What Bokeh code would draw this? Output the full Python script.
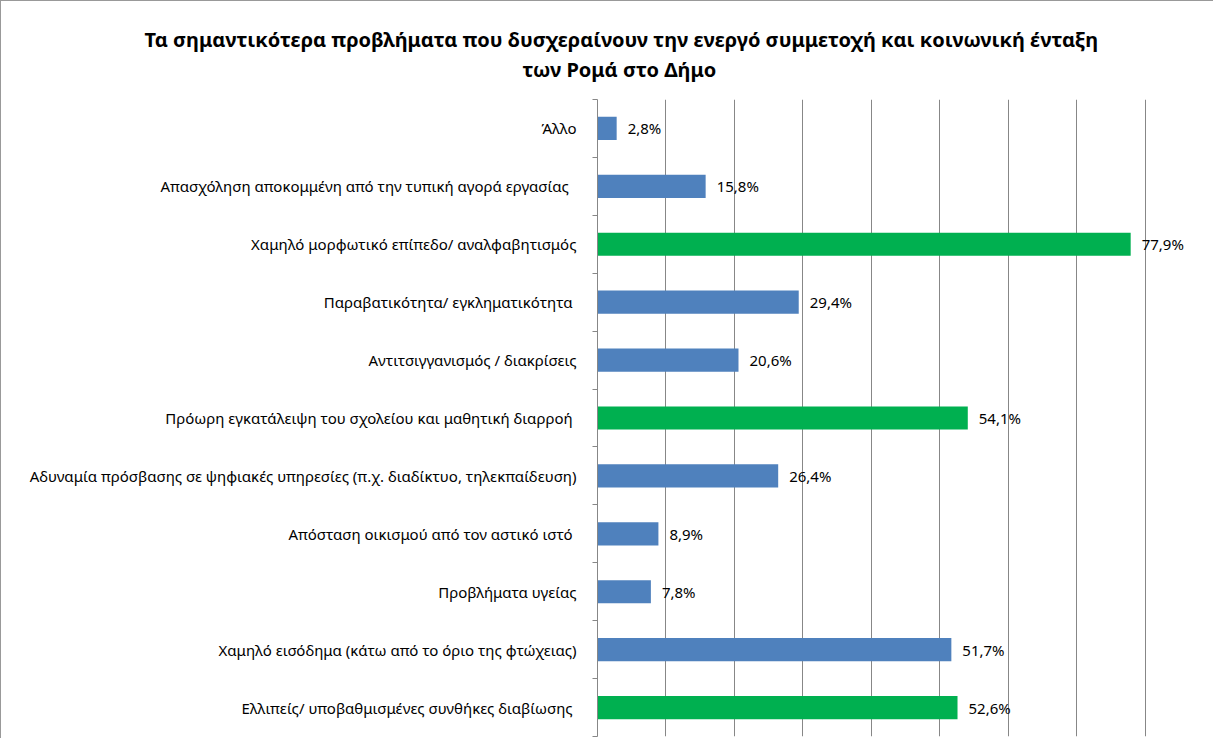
from bokeh.plotting import figure
from bokeh.models import Range1d, FixedTicker, Title
from bokeh.core.properties import value
from bokeh.embed import file_html
from bokeh.resources import INLINE

title_lines = [
    "Τα σημαντικότερα προβλήματα που δυσχεραίνουν την ενεργό συμμετοχή και κοινωνική ένταξη",
    "των Ρομά στο Δήμο",
]
categories = [
    "Άλλο",
    "Απασχόληση  αποκομμένη  από την τυπική αγορά εργασίας",
    "Χαμηλό μορφωτικό επίπεδο/ αναλφαβητισμός",
    "Παραβατικότητα/  εγκληματικότητα",
    "Αντιτσιγγανισμός / διακρίσεις",
    "Πρόωρη εγκατάλειψη  του σχολείου και μαθητική διαρροή",
    "Αδυναμία πρόσβασης σε ψηφιακές υπηρεσίες (π.χ. διαδίκτυο, τηλεκπαίδευση)",
    "Απόσταση  οικισμού από τον αστικό ιστό",
    "Προβλήματα υγείας",
    "Χαμηλό εισόδημα (κάτω από το όριο της φτώχειας)",
    "Ελλιπείς/ υποβαθμισμένες  συνθήκες διαβίωσης",
]
values = [2.8, 15.8, 77.9, 29.4, 20.6, 54.1, 26.4, 8.9, 7.8, 51.7, 52.6]
highlighted = [False, False, True, False, False, True, False, False, False, False, True]
x_max = 90
grid_step = 10

BLUE = "#4F81BD"
GREEN = "#00B050"
GRAY = "#878787"
FONT = "Noto Sans"

n = len(categories)
centers = [i + 0.5 for i in range(n)]
bounds = [i for i in range(n + 1)]
colors = [GREEN if h else BLUE for h in highlighted]
labels = [("%.1f" % v).replace(".", ",") + "%" for v in values]

p = figure(width=1213, height=738, output_backend="svg", toolbar_location=None,
           x_range=Range1d(0, x_max), y_range=Range1d(n, 0))
p.min_border_left = 596
p.min_border_right = 1
p.min_border_top = 98
p.min_border_bottom = 3
p.outline_line_color = None
p.background_fill_color = "white"
p.border_fill_color = "white"
p.styles = {"border-left": "1px solid #999999", "border-top": "1px solid #999999"}

p.hbar(y=centers, left=0, right=values, height=0.4, fill_color=colors, line_color=None)
p.text(x=values, y=centers, text=labels, x_offset=11, text_baseline="middle",
       text_align="left", text_font=value(FONT), text_font_size="15px", text_color="#000000")

p.xaxis.visible = False
p.xgrid.ticker = FixedTicker(ticks=list(range(0, x_max + 1, grid_step)))
p.xgrid.grid_line_color = GRAY
p.ygrid.grid_line_color = None

ya = p.yaxis[0]
ya.ticker = FixedTicker(ticks=centers, minor_ticks=bounds)
ya.major_label_overrides = {c: lab for c, lab in zip(centers, categories)}
ya.major_tick_out = 0
ya.major_tick_in = 0
ya.minor_tick_out = 5
ya.minor_tick_in = 0
ya.minor_tick_line_color = GRAY
ya.axis_line_color = GRAY
ya.major_label_standoff = 16
ya.major_label_text_font = FONT
ya.major_label_text_font_size = "15px"
ya.major_label_text_color = "#000000"

p.add_layout(Title(text=title_lines[1], align="left", offset=-75, standoff=33,
                   text_font=FONT, text_font_style="bold", text_font_size="20px",
                   text_color="#000000"), "above")
p.add_layout(Title(text=title_lines[0], align="left", offset=-453, standoff=-31,
                   text_font=FONT, text_font_style="bold", text_font_size="20px",
                   text_color="#000000"), "above")

open("out.html", "w").write(file_html(p, INLINE))
